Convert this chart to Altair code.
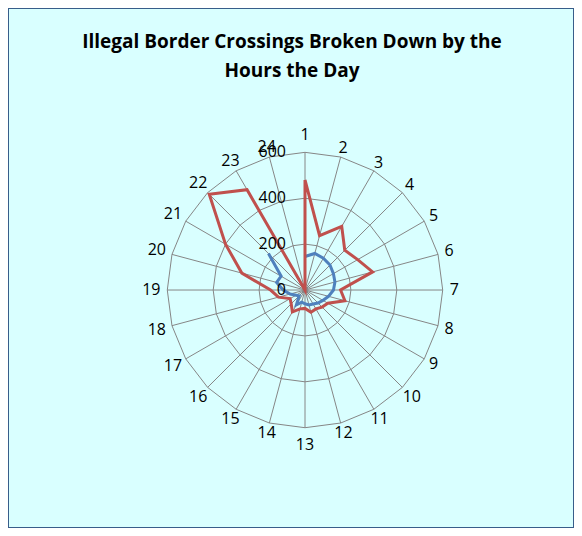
import altair as alt
import pandas as pd

# ---------------- data ----------------
hours = [str(h) for h in range(1, 25)]
red_values = [480, 245, 320, 245, 265, 305, 155, 180, 115, 105, 95, 100,
              80, 85, 110, 85, 75, 120, 150, 285, 400, 590, 505, 0]
blue_values = [146, 165, 160, 154, 143, 135, 124, 106, 90, 80, 70, 67,
               60, 55, 75, 36, 45, 67, 95, 128, 120, 225, None, None]
ring_values = [200, 400, 600]
tick_labels = ["0", "200", "400", "600"]
title_lines = ["Illegal Border Crossings Broken Down by the", "Hours the Day"]
series_names = ["Series1", "Series2"]
series_colors = ["#4F81BD", "#C0504D"]

N = len(hours)
RMAX = max(ring_values)

# ---------------- tables ----------------
rows = []
for name, vals in zip(series_names, [blue_values, red_values]):
    for i, v in enumerate(vals):
        rows.append({"series": name, "idx": i, "order": i, "value": v})
    if vals[-1] is not None and vals[0] is not None:
        rows.append({"series": name, "idx": 0, "order": N, "value": vals[0]})
series_df = pd.DataFrame(rows)

ring_rows = []
for r in ring_values:
    for k in range(N + 1):
        ring_rows.append({"ring": r, "idx": k % N, "order": k})
ring_df = pd.DataFrame(ring_rows)

hour_df = pd.DataFrame({"label": hours, "idx": list(range(N))})
tick_df = pd.DataFrame({"label": tick_labels, "value": [int(t) for t in tick_labels]})

FONT = "Open Sans"
W, H = 566, 520
xscale = alt.Scale(domain=[-1294, 1172], nice=False, zero=False)
yscale = alt.Scale(domain=[-1037, 1229], nice=False, zero=False)

ang = f"datum.idx * 2 * PI / {N}"

rings = alt.Chart(ring_df).transform_calculate(
    x=f"datum.ring * sin({ang})", y=f"datum.ring * cos({ang})"
).mark_line(color="#868686", strokeWidth=1).encode(
    x=alt.X("x:Q", scale=xscale, axis=None),
    y=alt.Y("y:Q", scale=yscale, axis=None),
    detail="ring:N",
    order="order:Q",
)

spokes = alt.Chart(hour_df).transform_calculate(
    x0="0", y0="0",
    x=f"{RMAX} * sin({ang})", y=f"{RMAX} * cos({ang})"
).mark_rule(color="#868686", strokeWidth=1).encode(
    x=alt.X("x0:Q", scale=xscale, axis=None),
    y=alt.Y("y0:Q", scale=yscale, axis=None),
    x2="x:Q",
    y2="y:Q",
)

lines = alt.Chart(series_df).transform_filter(
    "isValid(datum.value)"
).transform_calculate(
    x=f"datum.value * sin({ang})", y=f"datum.value * cos({ang})"
).mark_line(strokeWidth=3, strokeJoin="miter").encode(
    x=alt.X("x:Q", scale=xscale, axis=None),
    y=alt.Y("y:Q", scale=yscale, axis=None),
    color=alt.Color("series:N", scale=alt.Scale(domain=series_names, range=series_colors), legend=None),
    detail="series:N",
    order="order:Q",
)

px = 2466 / 566.0  # value units per pixel
cat_labels = alt.Chart(hour_df).transform_calculate(
    a=ang,
    rl=f"{RMAX} + (7 + abs(sin({ang})) * 4.5 * length(datum.label) + pow(abs(cos({ang})), 60) * 10) * {px}",
).transform_calculate(
    x="datum.rl * sin(datum.a)", y="datum.rl * cos(datum.a)"
).mark_text(font=FONT, fontSize=16, color="#000000", align="center", baseline="middle").encode(
    x=alt.X("x:Q", scale=xscale, axis=None),
    y=alt.Y("y:Q", scale=yscale, axis=None),
    text="label:N",
)

ticks = alt.Chart(tick_df).transform_calculate(x0="0").mark_text(
    font=FONT, fontSize=16, color="#000000", align="right", baseline="middle", dx=-19
).encode(
    x=alt.X("x0:Q", scale=xscale, axis=None),
    y=alt.Y("value:Q", scale=yscale, axis=None),
    text="label:N",
)

title_layers = []
for i, line in enumerate(title_lines):
    tdf = pd.DataFrame({"line": [line]})
    title_layers.append(
        alt.Chart(tdf).mark_text(
            font=FONT, fontSize=19, fontWeight="bold", color="#000000",
            align="center", baseline="middle"
        ).encode(
            x=alt.value(284),
            y=alt.value(34 + 29 * i),
            text="line:N",
        )
    )

chart = alt.layer(rings, spokes, lines, cat_labels, ticks, *title_layers).properties(
    width=W, height=H,
    background="#D9FFFF",
    padding=0,
    autosize=alt.AutoSizeParams(type="fit", contains="padding"),
).configure_view(
    stroke="#385D8A", strokeWidth=2, fill="#D9FFFF"
)

chart.save("out.html", embed_options={"renderer": "svg", "actions": False})
